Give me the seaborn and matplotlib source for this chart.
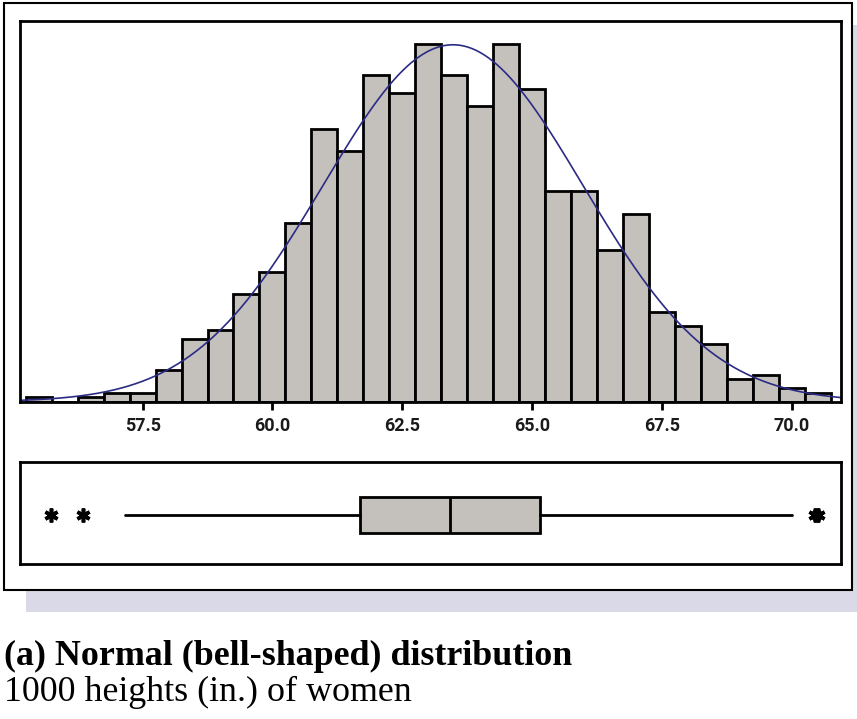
import numpy as np
import pandas as pd
import matplotlib
matplotlib.use("Agg")
import matplotlib.pyplot as plt
import matplotlib.patches as mpatches
import seaborn as sns

# 1000 heights (in.) of women, histogram bins 0.5 in wide
bin_centers = [55.5, 56.0, 56.5, 57.0, 57.5, 58.0, 58.5, 59.0, 59.5, 60.0,
               60.5, 61.0, 61.5, 62.0, 62.5, 63.0, 63.5, 64.0, 64.5, 65.0,
               65.5, 66.0, 66.5, 67.0, 67.5, 68.0, 68.5, 69.0, 69.5, 70.0, 70.5]
counts = [1, 0, 1, 2, 2, 7, 14, 16, 24, 29,
          40, 61, 56, 73, 69, 80, 73, 66, 80, 70,
          47, 47, 34, 42, 20, 17, 13, 5, 6, 3, 2]
bin_width = 0.5

# boxplot summary
q1, median, q3 = 61.69, 63.42, 65.16
whisker_lo, whisker_hi = 57.16, 70.0
outliers = [55.74, 56.36, 70.44, 70.5]

tick_values = [57.5, 60.0, 62.5, 65.0, 67.5, 70.0]
tick_labels = ["57.5", "60.0", "62.5", "65.0", "67.5", "70.0"]

bar_grey = '#c4c0bc'
curve_blue = '#2b2b85'
shadow_col = '#d9d9e8'

sns.set_theme(style="white")
plt.rcParams['font.family'] = ['Roboto', 'DejaVu Sans']

fig = plt.figure(figsize=(8.57, 7.19), dpi=100)
W, H = 857.0, 719.0

#This part draws the lavender drop shadow and the framed white panel
fig.patches.append(mpatches.Rectangle((26 / W, 1 - 612 / H), 1.0, (612 - 25) / H,
                                      transform=fig.transFigure, facecolor=shadow_col,
                                      edgecolor='none', zorder=-3))
fig.patches.append(mpatches.Rectangle((4 / W, 1 - 590 / H), (852 - 4) / W, (590 - 3) / H,
                                      transform=fig.transFigure, facecolor='white',
                                      edgecolor='black', linewidth=1.5, zorder=-2))

x_lo, x_hi = 55.14, 70.94
ax_hist = fig.add_axes([20 / W, 1 - 401.7 / H, 820.7 / W, (401.7 - 21) / H])
ax_box = fig.add_axes([20 / W, 1 - 564 / H, 820.7 / W, (564 - 461.7) / H])

hist_df = pd.DataFrame({'height': bin_centers, 'count': counts})
edges = [x - bin_width / 2 for x in bin_centers] + [bin_centers[-1] + bin_width / 2]
sns.histplot(data=hist_df, x='height', weights='count', bins=edges, ax=ax_hist,
             color=bar_grey, edgecolor='black', linewidth=2, alpha=1)

# fitted normal curve (mean and sd of the binned heights)
c = hist_df['count'].to_numpy(dtype=float)
xc = hist_df['height'].to_numpy()
n = c.sum()
mu = (c * xc).sum() / n
sd = np.sqrt((c * (xc - mu) ** 2).sum() / n)
xs = np.linspace(x_lo, x_hi, 400)
ys = n * bin_width * np.exp(-0.5 * ((xs - mu) / sd) ** 2) / (sd * np.sqrt(2 * np.pi))
sns.lineplot(x=xs, y=ys, ax=ax_hist, color=curve_blue, linewidth=1.2)

ax_hist.set_xlim(x_lo, x_hi)
ax_hist.set_ylim(0, 85.1)
ax_hist.set_xticks(tick_values)
ax_hist.set_xticklabels(tick_labels, fontweight='bold')
ax_hist.set_yticks([])
ax_hist.set_xlabel('')
ax_hist.set_ylabel('')
ax_hist.tick_params(axis='x', bottom=True, length=6, width=2, color='black',
                    pad=5, labelsize=13, labelcolor='#1a1a1a')
for sp in ax_hist.spines.values():
    sp.set_color('black')
    sp.set_linewidth(2)

#This part draws the boxplot from the summary values
stats = [{'med': median, 'q1': q1, 'q3': q3, 'whislo': whisker_lo,
          'whishi': whisker_hi, 'fliers': outliers}]
ax_box.bxp(stats, positions=[0], widths=0.7, orientation='horizontal',
           showcaps=False, patch_artist=True,
           boxprops=dict(facecolor=bar_grey, edgecolor='black', linewidth=2),
           medianprops=dict(color='black', linewidth=2),
           whiskerprops=dict(color='black', linewidth=2),
           flierprops=dict(marker=(6, 2, 0), markeredgecolor='black',
                           markerfacecolor='black', markersize=10,
                           markeredgewidth=2.6, linestyle='none'))
ax_box.set_xlim(x_lo, x_hi)
ax_box.set_ylim(-0.965, 1.035)
ax_box.set_xticks([])
ax_box.set_yticks([])
for sp in ax_box.spines.values():
    sp.set_color('black')
    sp.set_linewidth(2)

# caption under the panel
fig.text(4 / W, 1 - 665 / H, "(a) Normal (bell-shaped) distribution",
         fontsize=25.8, fontweight='bold', family=['Liberation Serif', 'DejaVu Serif'],
         ha='left', va='baseline', color='black')
fig.text(4 / W, 1 - 701 / H, "1000 heights (in.) of women",
         fontsize=25.8, family=['Liberation Serif', 'DejaVu Serif'],
         ha='left', va='baseline', color='black')

fig.savefig('out.png', dpi=100)
